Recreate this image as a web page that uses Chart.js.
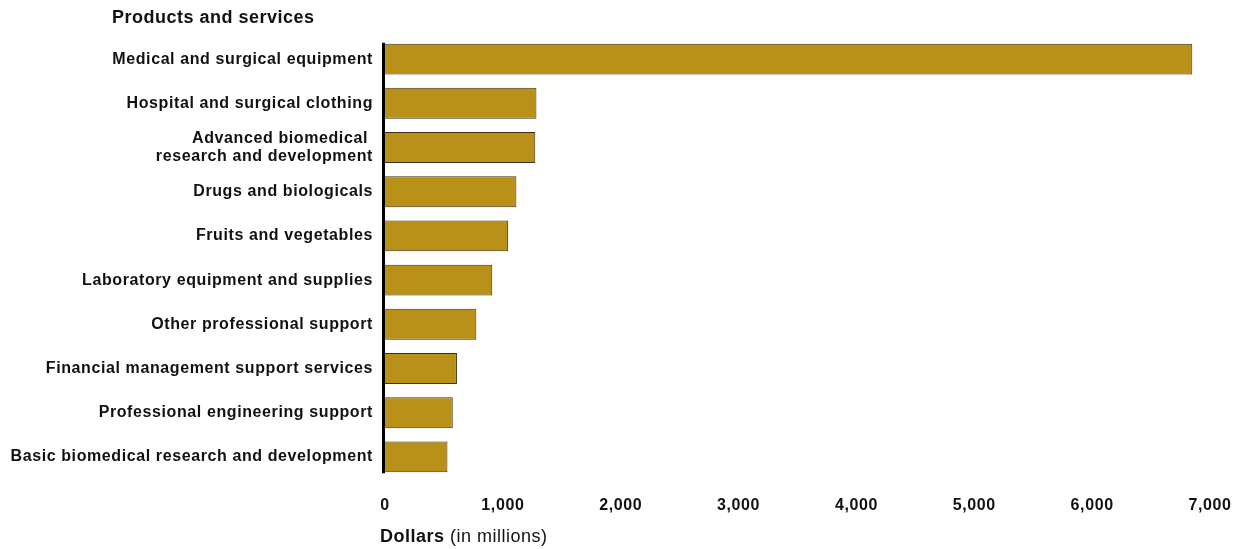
<!DOCTYPE html>
<html>
<head>
<meta charset="utf-8">
<script src="https://cdn.jsdelivr.net/npm/chart.js@4/dist/chart.umd.min.js"></script>
<style>
  html, body { margin: 0; padding: 0; background: #fff; }
  #wrap { width: 1247px; height: 549px; }
</style>
</head>
<body>
<div id="wrap"><canvas id="chart" width="1247" height="549"></canvas></div>
<script>
// Contract spending by product/service, millions of dollars
const categories = [
  'Medical and surgical equipment',
  'Hospital and surgical clothing',
  ['Advanced biomedical ', 'research and development'],
  'Drugs and biologicals',
  'Fruits and vegetables',
  'Laboratory equipment and supplies',
  'Other professional support',
  'Financial management support services',
  'Professional engineering support',
  'Basic biomedical research and development'
];
const dollars = [6850, 1285, 1275, 1115, 1045, 910, 775, 610, 575, 530];
const xTicks = [0, 1000, 2000, 3000, 4000, 5000, 6000, 7000];

const FONT = '"Liberation Sans", Arial, sans-serif';

// the source text is a bit wide, so add a little letter spacing to every canvas string
const spacingPlugin = {
  id: 'spacing',
  beforeInit(chart) { chart.ctx.letterSpacing = '0.6px'; },
  beforeDraw(chart) { chart.ctx.letterSpacing = '0.6px'; }
};

// thick black axis line running only from the first bar to the last one
const axisPlugin = {
  id: 'axisLine',
  afterDatasetsDraw(chart) {
    const bars = chart.getDatasetMeta(0).data;
    const first = bars[0], last = bars[bars.length - 1];
    const top = first.y - first.height / 2 - 1;
    const bottom = last.y + last.height / 2 + 1;
    const x = chart.chartArea.left - 1.5;
    const ctx = chart.ctx;
    ctx.save();
    ctx.strokeStyle = '#000';
    ctx.lineWidth = 3;
    ctx.beginPath();
    ctx.moveTo(x, top);
    ctx.lineTo(x, bottom);
    ctx.stroke();
    ctx.restore();
  }
};

// extra text: the "Products and services" heading and the axis title with mixed weights
const labelsPlugin = {
  id: 'labels',
  afterDraw(chart) {
    const ctx = chart.ctx;
    ctx.save();
    ctx.letterSpacing = '0.5px';
    ctx.fillStyle = '#111';
    ctx.textBaseline = 'middle';
    ctx.textAlign = 'left';
    ctx.font = 'bold 18px ' + FONT;
    ctx.fillText('Products and services', 112, 18);

    const x0 = 380;
    ctx.fillText('Dollars', x0, 537);
    const w = ctx.measureText('Dollars ').width;
    ctx.font = '18px ' + FONT;
    ctx.fillText('(in millions)', x0 + w, 537);
    ctx.restore();
  }
};

new Chart(document.getElementById('chart'), {
  type: 'bar',
  data: {
    labels: categories,
    datasets: [{
      data: dollars,
      backgroundColor: '#ba9118',
      borderColor: '#3a2f12',
      borderWidth: 1,
      barPercentage: 0.8,
      categoryPercentage: 0.875
    }]
  },
  options: {
    indexAxis: 'y',
    responsive: false,
    animation: false,
    layout: { padding: { top: 37, right: 33, left: 0, bottom: 0 } },
    plugins: {
      legend: { display: false },
      tooltip: { enabled: false }
    },
    scales: {
      x: {
        min: 0,
        max: 7000,
        afterBuildTicks: (scale) => { scale.ticks = xTicks.map(v => ({ value: v })); },
        afterFit: (scale) => { scale.height = 70; },
        grid: { display: false, drawTicks: false },
        border: { display: false },
        ticks: {
          color: '#111',
          padding: 17,
          maxRotation: 0,
          font: { family: FONT, size: 16, weight: 'bold' },
          callback: (v) => v.toLocaleString('en-US')
        }
      },
      y: {
        afterFit: (scale) => { scale.width = 385; },
        grid: { display: false, drawTicks: false },
        border: { display: false },
        ticks: {
          color: '#111',
          padding: 12,
          font: { family: FONT, size: 16, weight: 'bold', lineHeight: 1.1 }
        }
      }
    }
  },
  plugins: [spacingPlugin, axisPlugin, labelsPlugin]
});
</script>
</body>
</html>
